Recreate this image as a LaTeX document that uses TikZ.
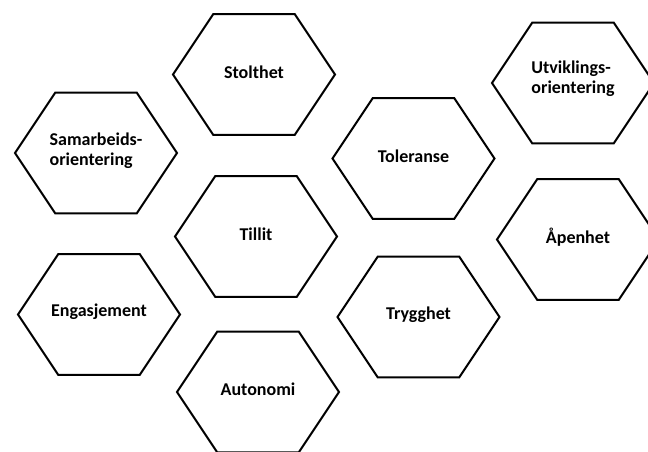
\documentclass[tikz,border=0pt]{standalone}
\usepackage{fontspec}
\setmainfont{Carlito}
\usepackage{tikz}
\usetikzlibrary{shapes.symbols,positioning}

\begin{document}
\begin{tikzpicture}[
    x=0.75pt, y=-0.75pt,
    hexa/.style={draw, signal, signal to=west and east,
        signal pointer angle=112.6, minimum width=121.5pt, minimum height=90.5pt,
        inner sep=0pt, line width=1.5pt},
    lbl/.style={align=left, yshift=2pt, font=\fontsize{13.5}{15}\selectfont\bfseries},
]
\useasboundingbox (0,0) rectangle (648,451);
\clip (0,0) rectangle (648,451);

% left column
\node[hexa] (samarb) at (96,153) {};
\node[hexa] (engasj) at (99,314.5) {};

% middle column
\node[hexa] (stolt) at (254,74.5) {};
\node[hexa] (tillit) at (256,236.5) {};
\node[hexa] (auton) at (258,392) {};

% right-middle column
\node[hexa] (toler) at (413.5,158.5) {};
\node[hexa] (trygg) at (418.5,317) {};

% right column
\node[hexa] (utvikl) at (573,83) {};
\node[hexa] (apen) at (578,239.5) {};

% labels
\node[lbl] (samarbT) at (samarb.center) {Samarbeids-\\orientering};
\node[lbl] (engasjT) at (engasj.center) {Engasjement};
\node[lbl] (stoltT) at (stolt.center) {Stolthet};
\node[lbl] (tillitT) at (tillit.center) {Tillit};
\node[lbl] (autonT) at (auton.center) {Autonomi};
\node[lbl] (tolerT) at (toler.center) {Toleranse};
\node[lbl] (tryggT) at (trygg.center) {Trygghet};
\node[lbl, yshift=1pt] (utviklT) at (utvikl.center) {Utviklings-\\orientering};
\node[lbl] (apenT) at (apen.center) {Åpenhet};

\end{tikzpicture}
\end{document}
